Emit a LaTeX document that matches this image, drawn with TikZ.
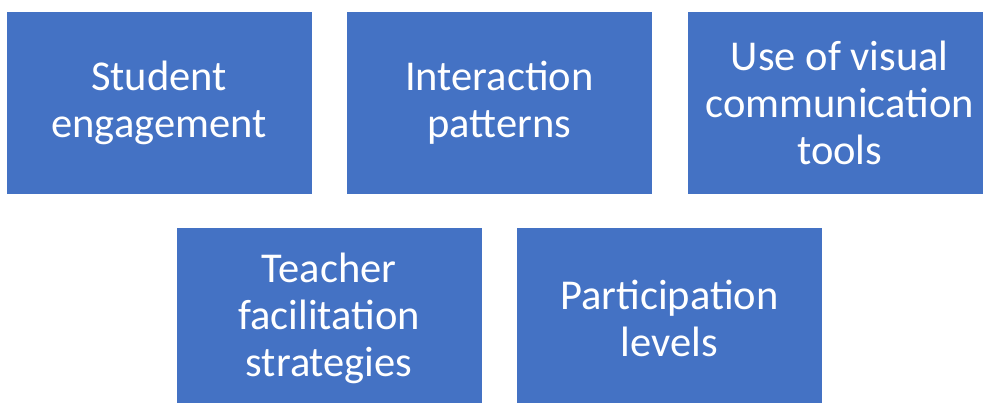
\documentclass[tikz,border=0pt]{standalone}
\usepackage{fontspec}
\setmainfont{Carlito}
\usetikzlibrary{positioning}

\definecolor{boxblue}{HTML}{4472C4}

\begin{document}
\begin{tikzpicture}[
  x=1pt, y=-1pt,
  topic/.style={rectangle, fill=boxblue, draw=white, line width=0.4pt,
    minimum width=306pt, minimum height=183pt, inner sep=0pt,
    text=white, align=center,
    font=\fontsize{42.5}{47}\selectfont},
  node distance=34pt and 34pt
]
\clip (0,0) rectangle (983,403);
\useasboundingbox (0,0) rectangle (983,403);

\node[topic] (engage) at (159,102.5) {Student\\engagement};
\node[topic, right=of engage] (interact) {Interaction\\patterns};
\node[topic, right=of interact] (visual) {Use of visual\\communication\\tools};
\node[topic] (teacher) at (329,318.5) {Teacher\\facilitation\\strategies};
\node[topic, right=of teacher] (particip) {Participation\\levels};
\end{tikzpicture}
\end{document}
